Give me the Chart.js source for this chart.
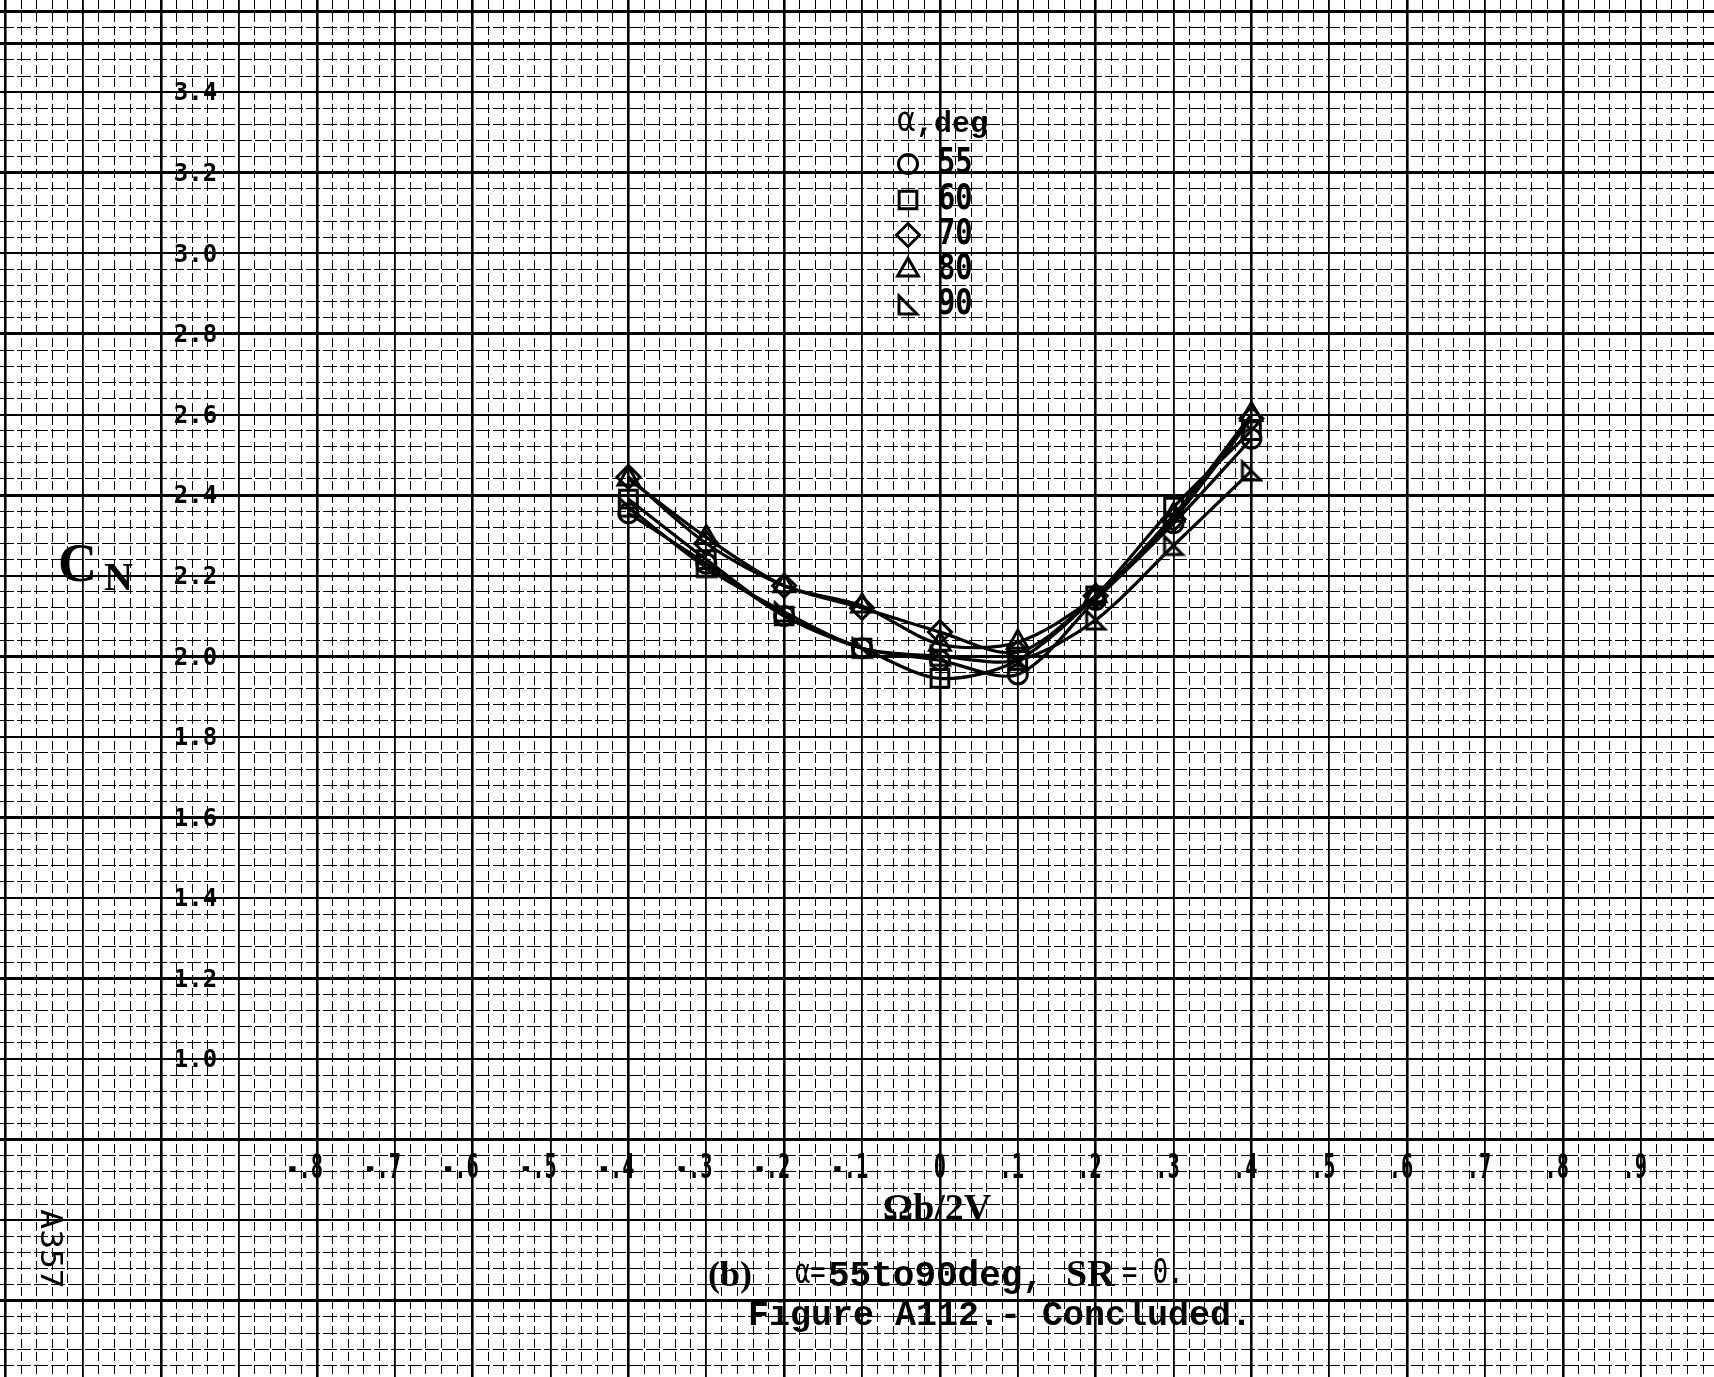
<!DOCTYPE html>
<html>
<head>
<meta charset="utf-8">
<script src="https://cdn.jsdelivr.net/npm/chart.js@4.4.0/dist/chart.umd.min.js"></script>
<style>
  html, body { margin: 0; padding: 0; background: #fff; }
  #wrap { width: 1714px; height: 1377px; }
</style>
</head>
<body>
<div id="wrap"><canvas id="cn-chart" width="1714" height="1377"></canvas></div>
<script>
// Ωb/2V of each run
const rateValues = [-0.4, -0.3, -0.2, -0.1, 0, 0.1, 0.2, 0.3, 0.4]

// C_N, one list per angle of attack
const cn55 = [2.355, 2.23, 2.10, 2.02, 1.99, 1.955, 2.14, 2.33, 2.54]
const cn60 = [2.39, 2.24, 2.10, 2.02, 1.945, 1.99, 2.15, 2.37, 2.56]
const cn70 = [2.445, 2.28, 2.175, 2.12, 2.06, 2.01, 2.15, 2.34, 2.59]
const cn80 = [2.44, 2.295, 2.175, 2.125, 2.03, 2.035, 2.15, 2.35, 2.60]
const cn90 = [2.37, 2.22, 2.11, 2.02, 2.0, 1.99, 2.09, 2.275, 2.46]

const alphaLabels = ['55', '60', '70', '80', '90']

const xTickValues = [-0.8, -0.7, -0.6, -0.5, -0.4, -0.3, -0.2, -0.1, 0, 0.1, 0.2, 0.3, 0.4, 0.5, 0.6, 0.7, 0.8, 0.9]
const xTickLabels = ['-.8', '-.7', '-.6', '-.5', '-.4', '-.3', '-.2', '-.1', '0', '.1', '.2', '.3', '.4', '.5', '.6', '.7', '.8', '.9']
const yTickValues = [3.4, 3.2, 3.0, 2.8, 2.6, 2.4, 2.2, 2.0, 1.8, 1.6, 1.4, 1.2, 1.0]
const yTickLabels = ['3.4', '3.2', '3.0', '2.8', '2.6', '2.4', '2.2', '2.0', '1.8', '1.6', '1.4', '1.2', '1.0']

const MONO = '"DejaVu Sans Mono"'

// right triangle marker, right angle at lower left
function rightTriangle(size, lw) {
    const c = document.createElement('canvas')
    c.width = c.height = size + lw * 2
    const g = c.getContext('2d')
    g.lineWidth = lw
    g.strokeStyle = '#000'
    g.beginPath()
    g.moveTo(lw, lw)
    g.lineTo(lw, lw + size)
    g.lineTo(lw + size, lw + size)
    g.closePath()
    g.stroke()
    return c
}

const markers = [
    {style: 'circle', radius: 9.5},
    {style: 'rect', radius: 12.5},
    {style: 'rectRot', radius: 11.5},
    {style: 'triangle', radius: 12},
    {style: rightTriangle(18, 3), radius: 11},
]

function series(values) {
    return rateValues.map((x, i) => ({x: x, y: values[i]}))
}

const datasets = [cn55, cn60, cn70, cn80, cn90].map((vals, i) => ({
    label: alphaLabels[i],
    data: series(vals),
    borderColor: '#000',
    borderWidth: 3.2,
    tension: 0.3,
    pointStyle: markers[i].style,
    pointRadius: markers[i].radius,
    pointBorderWidth: 3,
    pointBorderColor: '#000',
    pointBackgroundColor: 'rgba(0,0,0,0)',
}))

function gridTicks(from, to, per) {
    const out = []
    for (let k = from; k <= to; k++) out.push({value: k / per})
    return out
}

function plotText(ctx, text, x, y, size, sx, align, weight) {
    ctx.save()
    ctx.font = (weight || 'bold') + ' ' + size + 'px ' + MONO
    ctx.textBaseline = 'middle'
    ctx.textAlign = align || 'left'
    ctx.translate(x, y)
    ctx.scale(sx, 1)
    ctx.fillText(text, 0, 0)
    ctx.restore()
}

function boldText(ctx, text, x, y, font, align) {
    ctx.font = font
    ctx.textBaseline = 'alphabetic'
    ctx.textAlign = align || 'left'
    ctx.fillText(text, x, y)
}

function drawMarker(ctx, i, x, y) {
    const m = markers[i]
    ctx.save()
    ctx.strokeStyle = '#000'
    ctx.fillStyle = 'rgba(0,0,0,0)'
    ctx.lineWidth = 3
    if (Chart.helpers && Chart.helpers.drawPoint) {
        Chart.helpers.drawPoint(ctx, {pointStyle: m.style, radius: m.radius, rotation: 0, borderWidth: 3}, x, y)
    } else if (typeof m.style !== 'string') {
        ctx.drawImage(m.style, x - m.style.width / 2, y - m.style.height / 2)
    }
    ctx.restore()
}

const paper = {
    id: 'paper',
    beforeDraw(chart) {
        const ctx = chart.ctx
        ctx.save()
        ctx.fillStyle = '#fff'
        ctx.fillRect(0, 0, chart.width, chart.height)
        ctx.restore()
    },
    afterDraw(chart) {
        const ctx = chart.ctx
        const xs = chart.scales.x, ys = chart.scales.y
        ctx.save()
        ctx.fillStyle = '#000'

        // y tick labels down the column left of -.9, centred on their lines
        const yCol = xs.getPixelForValue(-0.956)
        yTickValues.forEach((v, i) => {
            plotText(ctx, yTickLabels[i], yCol, ys.getPixelForValue(v) + 2, 24, 1.0, 'center')
        })

        // x tick labels: the digit sits on its grid line
        const xRow = ys.getPixelForValue(0.732) + 2
        const digitW = 34 * 0.602 * 0.6
        xTickValues.forEach((v, i) => {
            plotText(ctx, xTickLabels[i], xs.getPixelForValue(v) + digitW / 2, xRow, 34, 0.6, 'right')
        })

        // C_N
        boldText(ctx, 'C', 58, 581, 'bold 54px "Liberation Serif"')
        boldText(ctx, 'N', 104, 590, 'bold 40px "Liberation Serif"')

        // legend
        plotText(ctx, 'α', 897, 122, 34, 0.9, 'left', 'normal')
        boldText(ctx, ',deg', 916, 132, 'bold 30px "Liberation Mono"')
        const rows = [164, 200, 235, 270, 305]
        rows.forEach((y, i) => {
            drawMarker(ctx, i, 908, y)
            plotText(ctx, alphaLabels[i], 938, y, 36, 0.8, 'left')
        })

        // axis title and caption
        boldText(ctx, 'Ωb/2V', 937, 1220, 'bold 38px "Liberation Serif"', 'center')
        boldText(ctx, '(b)', 708, 1286, 'bold 36px "Liberation Serif"')
        plotText(ctx, 'α=', 795, 1274, 34, 0.75, 'left', 'normal')
        boldText(ctx, '55to90deg,', 828, 1286, 'bold 36px "Liberation Mono"')
        boldText(ctx, 'SR', 1066, 1286, 'bold 38px "Liberation Serif"')
        plotText(ctx, '= 0.', 1122, 1274, 34, 0.75, 'left', 'normal')
        boldText(ctx, 'Figure A112.- Concluded.', 748, 1325, 'bold 35px "Liberation Mono"')

        // sheet number, turned on its side
        ctx.save()
        ctx.translate(49, 1249)
        ctx.rotate(Math.PI / 2)
        plotText(ctx, 'A357', 0, 0, 30, 1.1, 'center', 'normal')
        ctx.restore()

        ctx.restore()
    }
}

const config = {
    type: 'line',
    data: {datasets: datasets},
    options: {
        responsive: false,
        animation: false,
        devicePixelRatio: 1,
        layout: {padding: 0, autoPadding: false},
        plugins: {legend: {display: false}, tooltip: {enabled: false}},
        scales: {
            x: {
                type: 'linear',
                min: -1.207,
                max: 0.994,
                afterBuildTicks: scale => { scale.ticks = gridTicks(-60, 49, 50) },
                ticks: {display: false},
                border: {
                    display: false,
                    dash: c => {
                        const k = Math.round(c.tick.value * 50)
                        return k % 5 === 0 ? [] : [9, 4]
                    },
                },
                grid: {
                    drawTicks: false,
                    color: '#000',
                    lineWidth: c => {
                        const k = Math.round(c.tick.value * 50)
                        return k % 10 === 0 ? 2.6 : k % 5 === 0 ? 1.8 : 1
                    },
                },
            },
            y: {
                type: 'linear',
                min: 0.211,
                max: 3.629,
                afterBuildTicks: scale => { scale.ticks = gridTicks(6, 90, 25) },
                ticks: {display: false},
                border: {
                    display: false,
                    dash: c => {
                        const k = Math.round(c.tick.value * 25)
                        return k % 5 === 0 || k === 88 ? [] : [14, 3]
                    },
                },
                grid: {
                    drawTicks: false,
                    color: '#000',
                    lineWidth: c => {
                        const k = Math.round(c.tick.value * 25)
                        return k % 10 === 0 || k === 88 ? 3 : k % 5 === 0 ? 2 : 1.1
                    },
                },
            },
        },
    },
    plugins: [paper],
}

const cn_chart = new Chart(document.getElementById('cn-chart').getContext('2d'), config)
</script>
</body>
</html>
